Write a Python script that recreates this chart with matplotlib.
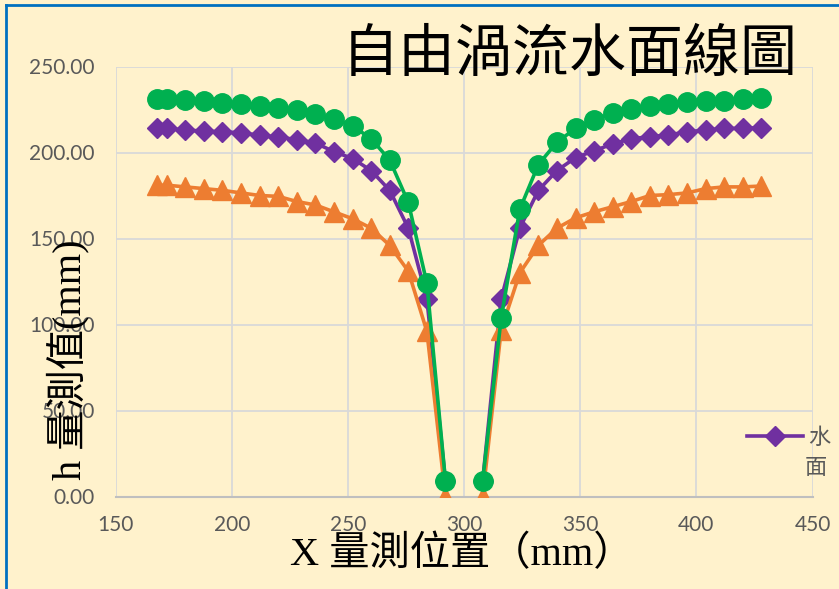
import matplotlib
matplotlib.use("Agg")
import matplotlib.pyplot as plt
from matplotlib.lines import Line2D

plt.rcParams['font.family'] = ['Lato', 'Noto Sans CJK TC', 'DejaVu Sans']

# 左半邊與右半邊的量測位置 (mm)
x_left = [168, 172, 180, 188, 196, 204, 212, 220, 228, 236, 244, 252, 260, 268, 276, 284, 292]
x_right = [308, 316, 324, 332, 340, 348, 356, 364, 372, 380, 388, 396, 404, 412, 420, 428]

# 水面 (紫)
h_water_left = [214, 214, 213, 212.5, 212, 211.5, 210, 209, 207.5, 205.5, 200.5, 196.5, 189.5, 178, 156, 115, 9]
h_water_right = [9, 115, 156, 178, 189.5, 197, 201, 205, 208, 209.2, 210.2, 212, 213, 214, 214, 214.5]

# 橘色系列
h_orange_left = [181, 181, 180, 179, 178, 176.5, 175, 174.5, 171.5, 169.5, 165.5, 161.5, 156, 146, 131, 96, 0]
h_orange_right = [0, 97, 130, 146, 156, 162, 165.5, 168.5, 171.5, 175, 175.5, 176.5, 179, 180, 180, 180.5]

# 綠色系列
h_green_left = [231, 231, 230.5, 230, 229, 228, 227, 226, 224.7, 222.5, 219.5, 215.5, 208, 195.6, 171, 124, 9]
h_green_right = [9, 104, 167, 193, 206, 214, 219, 223, 225.5, 227, 228, 229.5, 230, 230, 231, 231.5]

bg = '#FFF2CC'
purple = '#7030A0'
orange = '#ED7D31'
green = '#00B050'
gray = '#595959'

W, H = 839, 589
fig = plt.figure(figsize=(W / 100, H / 100), dpi=100)
fig.patch.set_facecolor(bg)

ax = fig.add_axes([115.6 / W, 1 - 496.5 / H, (812.5 - 115.6) / W, 430 / H])
ax.set_facecolor(bg)

for xs, ys in [(x_left, h_water_left), (x_right, h_water_right)]:
    ax.plot(xs, ys, color=purple, lw=2.6, marker='D', ms=10, mec=purple, zorder=3)
for xs, ys in [(x_left, h_orange_left), (x_right, h_orange_right)]:
    ax.plot(xs, ys, color=orange, lw=2.6, marker='^', ms=14, mec=orange, zorder=4)
for xs, ys in [(x_left, h_green_left), (x_right, h_green_right)]:
    ax.plot(xs, ys, color=green, lw=2.6, marker='o', ms=14, mec=green, zorder=5)

ax.set_xlim(150, 450)
ax.set_ylim(0, 250)
ax.set_xticks(range(150, 451, 50))
ax.set_yticks(range(0, 251, 50))
ax.set_yticklabels([f"{v:.2f}" for v in range(0, 251, 50)])
ax.grid(color='#D9D9D9', lw=1.3, zorder=0)
ax.set_axisbelow(True)
for s in ['top', 'right', 'left']:
    ax.spines[s].set_visible(False)
ax.spines['bottom'].set_color('#BFBFBF')
ax.spines['bottom'].set_linewidth(1.5)
ax.tick_params(length=0, labelsize=15, labelcolor=gray)
ax.tick_params(axis='y', pad=15)
ax.tick_params(axis='x', pad=13)

label_font = ['Liberation Serif', 'Noto Sans CJK TC']
fig.text(570 / W, 1 - 55 / H, '自由渦流水面線圖', fontsize=41,
         family=['Noto Sans CJK TC'], ha='center', va='center', color='black')
fig.text(462 / W, 1 - 555 / H, 'X 量測位置（mm）', fontsize=29,
         family=label_font, ha='center', va='center', color='black')
fig.text(68 / W, 1 - 360 / H, 'h 量測值(mm)', fontsize=29, rotation=90,
         family=label_font, ha='center', va='center', color='black')

# 圖例 (只顯示水面)
handle = Line2D([], [], color=purple, lw=2.6, marker='D', ms=10, mec=purple)
fig.legend([handle], ['水'], loc='center left',
           bbox_to_anchor=(747 / W, 1 - 437 / H), frameon=False,
           borderpad=0, borderaxespad=0, handlelength=2.5, handletextpad=0.25,
           prop={'family': 'Noto Sans CJK TC', 'size': 16}, labelcolor=gray)
fig.text(816 / W, 1 - 467 / H, '面', fontsize=16, family='Noto Sans CJK TC',
         ha='center', va='center', color=gray)

# 外框 (左與上)
fig.add_artist(Line2D([6 / W, 6 / W], [0, 1 - 5 / H], color='#0070C0', lw=2))
fig.add_artist(Line2D([6 / W, 1], [1 - 5 / H, 1 - 5 / H], color='#0070C0', lw=2))

fig.savefig('out.png', dpi=100, facecolor=bg)
